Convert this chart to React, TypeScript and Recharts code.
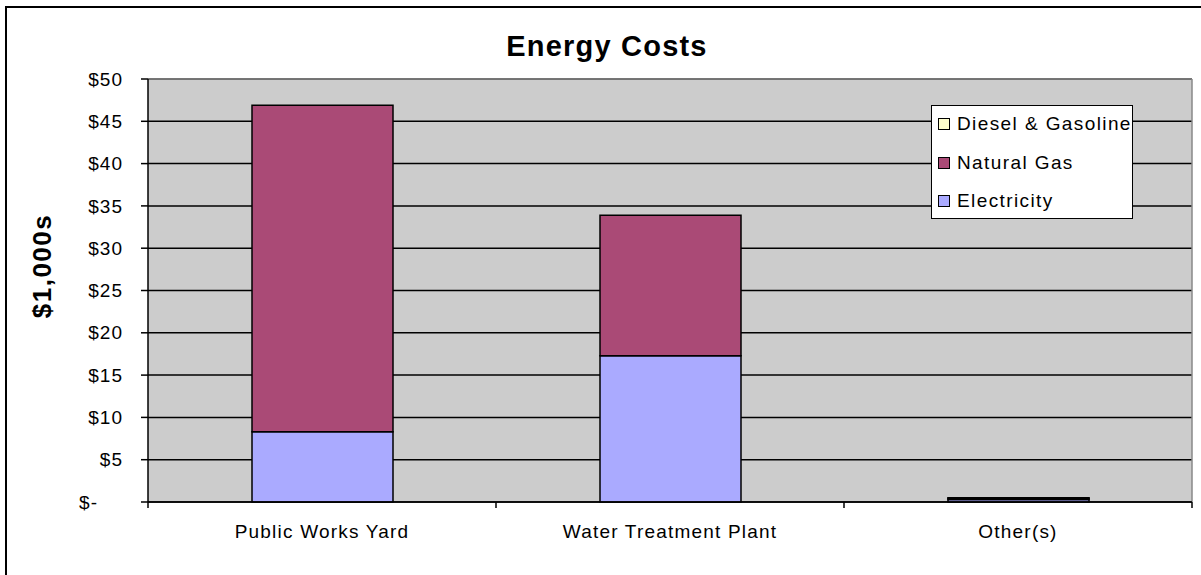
import { BarChart, Bar, XAxis, YAxis, CartesianGrid } from 'recharts'

// Energy costs by facility, in $1,000s
const categories = ['Public Works Yard', 'Water Treatment Plant', 'Other(s)']
const electricity = [8.3, 17.3, 0.3]
const naturalGas = [38.6, 16.6, 0.15]
const dieselGasoline = [0, 0, 0.05]
const yTicks = [0, 5, 10, 15, 20, 25, 30, 35, 40, 45, 50]

const FONT = 'Arial, "Liberation Sans", sans-serif'

// legend order is top-of-stack first
const series = [
  { key: 'diesel', name: 'Diesel & Gasoline', color: '#FFFFCC' },
  { key: 'gas', name: 'Natural Gas', color: '#AA4A76' },
  { key: 'electricity', name: 'Electricity', color: '#AAAAFF' },
]

const data = categories.map((name, i) => ({
  name,
  electricity: electricity[i],
  gas: naturalGas[i],
  diesel: dieselGasoline[i],
}))

function YTick({ x, y, payload }: any) {
  const v = payload.value
  const label = v === 0 ? '$-' : `$${v}`
  return (
    <text
      x={v === 0 ? x - 25 : x}
      y={y}
      dy="0.35em"
      textAnchor="end"
      fontFamily={FONT}
      fontSize={19}
      letterSpacing={1}
      fill="#000"
    >
      {label}
    </text>
  )
}

function XTick({ x, y, payload, index, visibleTicksCount }: any) {
  const half = payload?.offset || 174
  const last = index === visibleTicksCount - 1
  return (
    <g>
      <line x1={x - half} x2={x - half} y1={y} y2={y + 6} stroke="#000" strokeWidth={1.5} />
      {last && <line x1={x + half} x2={x + half} y1={y} y2={y + 6} stroke="#000" strokeWidth={1.5} />}
      <text
        x={x}
        y={y + 36}
        textAnchor="middle"
        fontFamily={FONT}
        fontSize={19}
        letterSpacing={1.2}
        fill="#000"
      >
        {payload.value}
      </text>
    </g>
  )
}

function YLabel() {
  return (
    <text
      x={42}
      y={266}
      transform="rotate(-90 42 266)"
      textAnchor="middle"
      dominantBaseline="central"
      fontFamily={FONT}
      fontWeight="bold"
      fontSize={26}
      letterSpacing={1.5}
      fill="#000"
    >
      $1,000s
    </text>
  )
}

export default function App() {
  return (
    <div
      style={{
        position: 'absolute',
        left: 0,
        top: 0,
        width: 1201,
        height: 575,
        overflow: 'hidden',
        background: '#fff',
        fontFamily: FONT,
      }}
    >
      {/* chart frame, runs off the right and bottom edge */}
      <div
        style={{
          position: 'absolute',
          left: 5,
          top: 6,
          width: 1220,
          height: 600,
          border: '2px solid #000',
        }}
      />

      <div style={{ position: 'absolute', left: 0, top: 0 }}>
        <BarChart
          width={1201}
          height={575}
          data={data}
          margin={{ top: 79, right: 9, bottom: 13, left: 8 }}
        >
          <CartesianGrid vertical={false} fill="#CCCCCC" stroke="#000" strokeWidth={1.5} />
          <CartesianGrid
            horizontalCoordinatesGenerator={({ offset }: any) => [offset.top]}
            verticalCoordinatesGenerator={({ offset }: any) => [offset.left + offset.width]}
            stroke="#888888"
            strokeWidth={1.5}
          />
          <XAxis
            dataKey="name"
            height={60}
            axisLine={{ stroke: '#000', strokeWidth: 1.5 }}
            tickLine={false}
            tickSize={0}
            tickMargin={0}
            tick={<XTick />}
            interval={0}
          />
          <YAxis
            type="number"
            width={140}
            domain={[0, 50]}
            ticks={yTicks}
            interval={0}
            axisLine={{ stroke: '#000', strokeWidth: 1.5 }}
            tickLine={{ stroke: '#000', strokeWidth: 1.5 }}
            tickSize={7}
            tickMargin={18}
            tick={<YTick />}
            label={{ content: <YLabel /> }}
          />
          <Bar dataKey="electricity" stackId="a" fill="#AAAAFF" stroke="#000" strokeWidth={1.5} barSize={141} isAnimationActive={false} />
          <Bar dataKey="gas" stackId="a" fill="#AA4A76" stroke="#000" strokeWidth={1.5} barSize={141} isAnimationActive={false} />
          <Bar dataKey="diesel" stackId="a" fill="#FFFFCC" stroke="#000" strokeWidth={1.5} barSize={141} isAnimationActive={false} />
        </BarChart>
      </div>

      <div
        style={{
          position: 'absolute',
          left: 407,
          top: 32,
          width: 400,
          textAlign: 'center',
          fontSize: 29,
          lineHeight: '29px',
          fontWeight: 'bold',
          letterSpacing: 1.2,
        }}
      >
        Energy Costs
      </div>

      <div
        style={{
          position: 'absolute',
          left: 931,
          top: 105,
          width: 202,
          height: 114,
          boxSizing: 'border-box',
          background: '#fff',
          border: '1.5px solid #000',
        }}
      >
        {series.map((s, i) => (
          <div
            key={s.key}
            style={{
              position: 'absolute',
              left: 6,
              top: 18 + i * 38.5 - 12,
              height: 24,
              display: 'flex',
              alignItems: 'center',
              whiteSpace: 'nowrap',
            }}
          >
            <span
              style={{
                width: 12,
                height: 12,
                boxSizing: 'border-box',
                background: s.color,
                border: '1.5px solid #000',
                marginRight: 7,
              }}
            />
            <span style={{ fontSize: 19, letterSpacing: 1.4, lineHeight: '24px' }}>{s.name}</span>
          </div>
        ))}
      </div>
    </div>
  )
}
